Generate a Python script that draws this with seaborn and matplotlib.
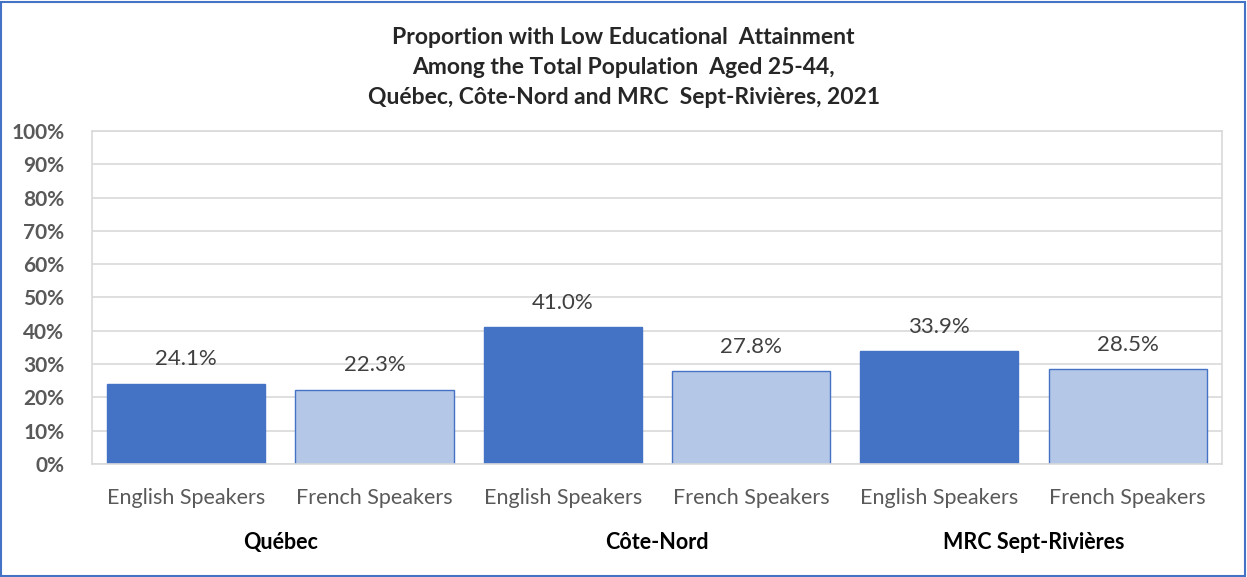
import pandas as pd
import matplotlib.pyplot as plt
import matplotlib.patches as mpatches
import seaborn as sns

# Data
regions = ["Québec", "Côte-Nord", "MRC Sept-Rivières"]
speakers = ["English Speakers", "French Speakers"]
values = [24.1, 22.3, 41.0, 27.8, 33.9, 28.5]
y_ticks = [0, 10, 20, 30, 40, 50, 60, 70, 80, 90, 100]

rows = []
i = 0
for r in regions:
    for s in speakers:
        rows.append({"bar": r + " - " + s, "region": r, "speaker": s, "value": values[i]})
        i += 1
data = pd.DataFrame(rows)

sns.set_style("white")
plt.rcParams['font.family'] = ['Lato', 'DejaVu Sans']

fig = plt.figure(figsize=(12.47, 5.77), dpi=100)
ax = fig.add_axes([0.0738, 0.196, 0.906, 0.577])

palette = {"English Speakers": "#4472C4", "French Speakers": "#B4C7E7"}
sns.barplot(data=data, x="bar", y="value", hue="speaker", palette=palette,
            dodge=False, width=0.84, edgecolor="#4472C4", linewidth=1,
            saturation=1, legend=False, ax=ax)

# value labels
for p in ax.patches:
    h = p.get_height()
    if h > 0:
        ax.text(p.get_x() + p.get_width() / 2, h + 4.3, f"{h:.1f}%",
                ha="center", va="bottom", fontsize=16, color="#404040")

ax.set_ylim(0, 100)
ax.set_xlim(-0.5, len(values) - 0.5)
ax.set_yticks(y_ticks)
ax.set_yticklabels([f"{t}%" for t in y_ticks], fontsize=15, color="#595959", fontweight="bold")
ax.set_xticks(range(len(values)))
ax.set_xticklabels([s for r in regions for s in speakers], fontsize=15.5, color="#595959")
ax.tick_params(axis="x", pad=17, length=0)
ax.tick_params(axis="y", pad=20, length=0)
ax.set_xlabel("")
ax.set_ylabel("")
ax.yaxis.grid(True, color="#D9D9D9", linewidth=1.2)
ax.set_axisbelow(True)
for sp in ax.spines.values():
    sp.set_visible(True)
    sp.set_color("#D9D9D9")
    sp.set_linewidth(1.2)

# region labels under the bar pairs
for k, r in enumerate(regions):
    ax.text(2 * k + 0.5, -23.5, r, ha="center", va="center", fontsize=15.5,
            fontweight="bold", color="black", transform=ax.transData)

fig.text(0.5, 0.883, "Proportion with Low Educational  Attainment\nAmong the Total Population  Aged 25-44,\nQuébec, Côte-Nord and MRC  Sept-Rivières, 2021",
         ha="center", va="center", fontsize=16.5, fontweight="bold", linespacing=1.55)

# outer frame
fig.patches.append(mpatches.Rectangle((0.001, 0.002), 0.997, 0.995, transform=fig.transFigure,
                                      fill=False, edgecolor="#4472C4", linewidth=1.5))

plt.savefig("out.png", dpi=100)
